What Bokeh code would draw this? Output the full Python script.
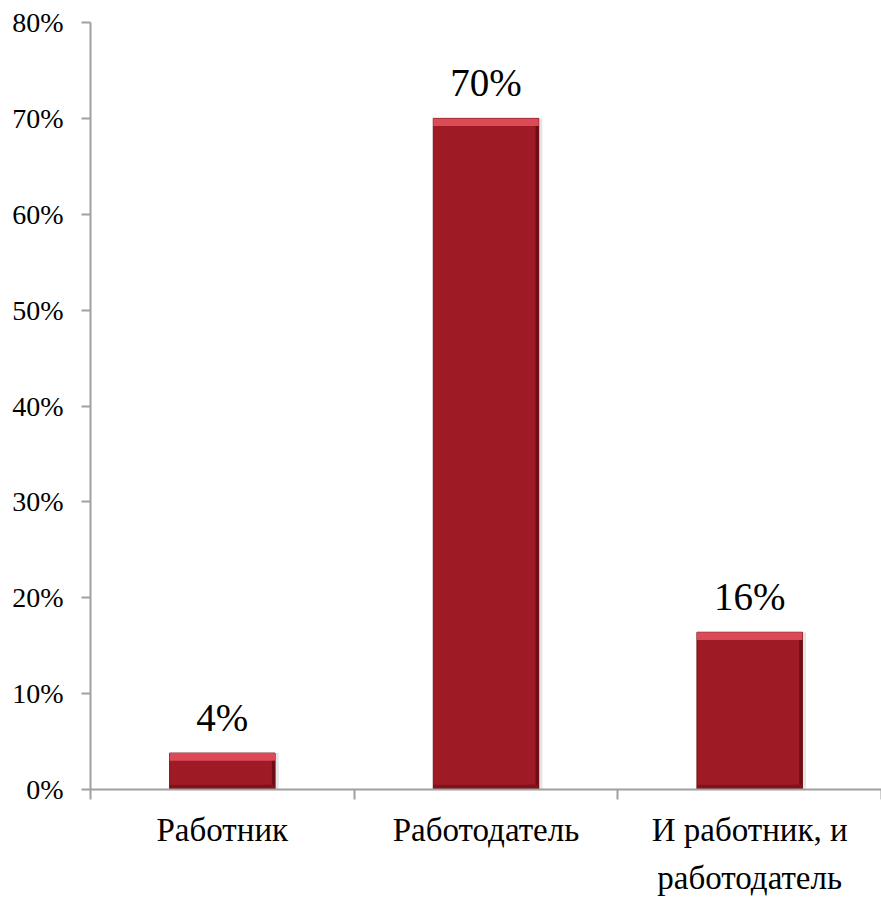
from bokeh.plotting import figure
from bokeh.models import FixedTicker, Range1d, ColumnDataSource, LabelSet, CustomJSTickFormatter
from bokeh.embed import file_html
from bokeh.resources import INLINE

categories = ["Работник", "Работодатель", "И работник, и\nработодатель"]
values = [3.8, 70.0, 16.4]
labels = ["4%", "70%", "16%"]
y_ticks = [0, 10, 20, 30, 40, 50, 60, 70, 80]

FONT = "'Liberation Serif', 'DejaVu Serif', serif"
xs = [i + 0.5 for i in range(len(categories))]
BW = 0.4

src = ColumnDataSource(dict(x=xs, top=values, lab=labels,
                            hl_bottom=[v - 0.8 for v in values],
                            edge_x=[x + BW / 2 - 0.006 for x in xs]))

p = figure(width=881, height=899, output_backend="svg", toolbar_location=None,
           x_range=Range1d(0, 3), y_range=Range1d(0, 80),
           min_border_left=90, min_border_right=0, min_border_top=22, min_border_bottom=105)
p.outline_line_color = None
p.xgrid.grid_line_color = None
p.ygrid.grid_line_color = None

# soft shadow
p.vbar(x=[x + 0.014 for x in xs], top=values, width=BW, bottom=0,
       fill_color="#000000", fill_alpha=0.10, line_color=None)
# bars
p.vbar(x="x", top="top", width=BW, bottom=0, source=src,
       fill_color="#9E1B25", line_color="#7A121B", line_width=1)
# bevel: dark right edge and bottom
p.vbar(x="edge_x", top="top", width=0.012, bottom=0, source=src,
       fill_color="#6E0D15", line_color=None)
p.vbar(x="x", top=0.5, width=BW, bottom=0, source=src,
       fill_color="#7E131C", line_color=None)
# bevel highlight on top
p.vbar(x="x", top="top", bottom="hl_bottom", width=BW, source=src,
       fill_color="#DA4B57", line_color=None)

lbl = LabelSet(x="x", y="top", text="lab", source=src, text_align="center",
               text_baseline="bottom", y_offset=14, text_font=FONT,
               text_font_size="39px", text_color="#000000")
p.add_layout(lbl)

# y axis
p.yaxis.ticker = FixedTicker(ticks=y_ticks)
p.yaxis.formatter = CustomJSTickFormatter(code="return tick.toFixed(0) + '%';")
p.yaxis.major_label_text_font = FONT
p.yaxis.major_label_text_font_size = "28px"
p.yaxis.major_label_text_color = "#000000"
p.yaxis.axis_line_color = "#A0A0A0"
p.yaxis.axis_line_width = 2
p.yaxis.major_tick_line_color = "#A0A0A0"
p.yaxis.major_tick_line_width = 2
p.yaxis.major_tick_out = 9
p.yaxis.major_tick_in = 0
p.yaxis.minor_tick_line_color = None
p.yaxis.major_label_standoff = 18

# x axis: labels at centers, ticks at boundaries (minor)
p.xaxis.ticker = FixedTicker(ticks=xs, minor_ticks=[0, 1, 2, 3])
p.xaxis.major_label_overrides = {x: c for x, c in zip(xs, categories)}
p.xaxis.major_label_text_font = FONT
p.xaxis.major_label_text_font_size = "33px"
p.xaxis.major_label_text_color = "#000000"
p.xaxis.major_label_text_line_height = 1.35
p.xaxis.axis_line_color = "#A0A0A0"
p.xaxis.axis_line_width = 2
p.xaxis.major_tick_line_color = None
p.xaxis.major_tick_out = 0
p.xaxis.major_tick_in = 0
p.xaxis.minor_tick_line_color = "#A0A0A0"
p.xaxis.minor_tick_line_width = 2
p.xaxis.minor_tick_out = 10
p.xaxis.minor_tick_in = 0
p.xaxis.major_label_standoff = 12

open("out.html", "w").write(file_html(p, INLINE))
